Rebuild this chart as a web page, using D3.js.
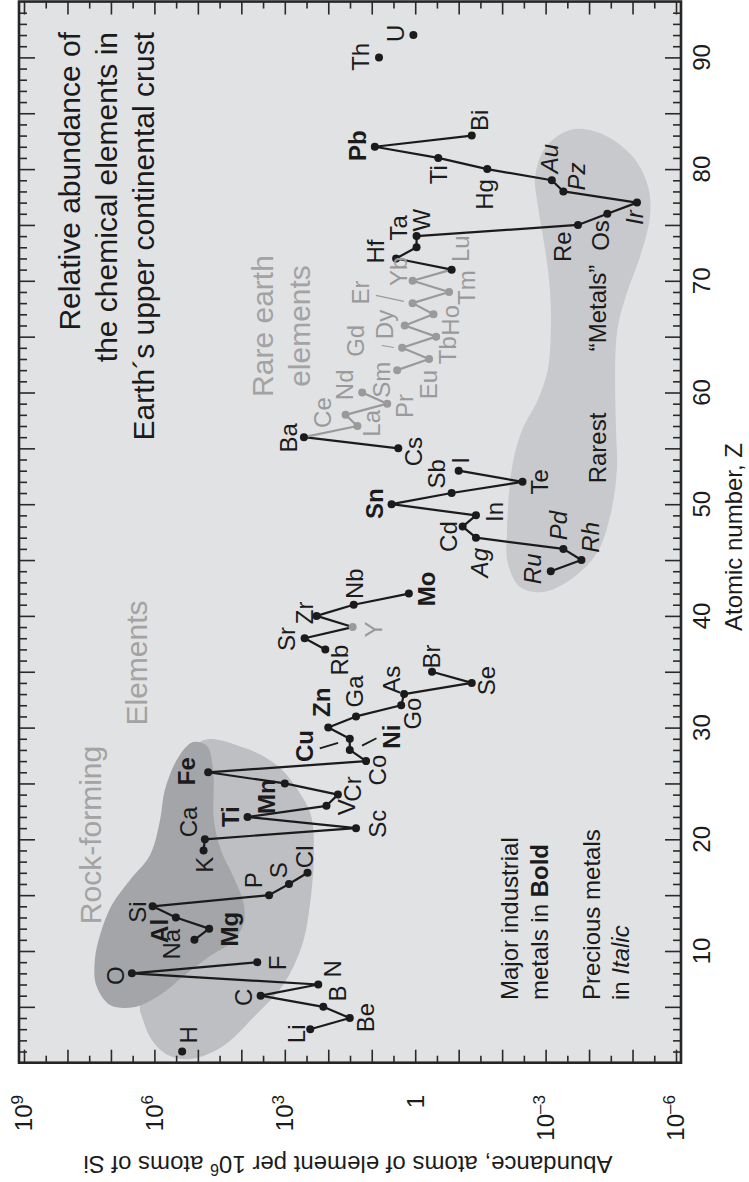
<!DOCTYPE html>
<html>
<head>
<meta charset="utf-8">
<script src="https://cdn.jsdelivr.net/npm/d3@7"></script>
<style>
  html, body { margin: 0; padding: 0; background: #fff; }
  svg { display: block; font-family: "Liberation Sans", Arial, Helvetica, sans-serif; }
</style>
</head>
<body>
<svg id="chart" width="749" height="1182"></svg>
<script>
// --- Data ---
var symbols = ["H","Li","Be","B","C","N","O","F","Na","Mg","Al","Si","P","S","Cl",
  "K","Ca","Sc","Ti","V","Cr","Mn","Fe","Co","Ni","Cu","Zn","Ga","Ge","As","Se","Br",
  "Rb","Sr","Y","Zr","Nb","Mo","Ru","Rh","Pd","Ag","Cd","In","Sn","Sb","Te","I",
  "Cs","Ba","La","Ce","Pr","Nd","Sm","Eu","Gd","Tb","Dy","Ho","Er","Tm","Yb","Lu",
  "Hf","Ta","W","Re","Os","Ir","Pt","Au","Hg","Tl","Pb","Bi","Th","U"];

var atomicNumbers = [1,3,4,5,6,7,8,9,11,12,13,14,15,16,17,
  19,20,21,22,23,24,25,26,27,28,29,30,31,32,33,34,35,
  37,38,39,40,41,42,44,45,46,47,48,49,50,51,52,53,
  55,56,57,58,59,60,62,63,64,65,66,67,68,69,70,71,
  72,73,74,75,76,77,78,79,80,81,82,83,90,92];

// atoms of element per 10^6 atoms of Si
var abundances = [2.3e5,260,32,130,3600,170,3.3e6,4300,1.2e5,5.5e4,3.2e5,1.1e6,2300,800,300,
  7.4e4,6.9e4,23,7200,110,60,1000,5.8e4,13.5,32,32,100,23,2.1,1.8,0.05,0.41,
  117,350,27.5,186,26,1.4,7.6e-4,1.5e-4,3.9e-4,0.04,0.081,0.04,3.5,0.145,3.4e-3,0.10,
  2.45,363,21.4,40,4.4,16.6,2.6,0.48,2.0,0.33,1.74,0.38,1.15,0.166,1.15,0.145,
  2.75,0.93,0.93,1.8e-4,3.8e-5,7.9e-6,3.9e-4,7.2e-4,0.022,0.295,8.5,0.05,6.8,1.1];

// label text as printed on the reference
var printedNames = { Ge: "Go", Pt: "Pz", Tl: "Ti" };

var industrialMetals = ["Mg","Al","Ti","Mn","Fe","Ni","Cu","Zn","Mo","Sn","Pb"];
var preciousMetals = ["Ru","Rh","Pd","Ag","Pt","Au","Ir"];
var rareEarthLabels = ["Y","La","Ce","Pr","Nd","Sm","Eu","Gd","Tb","Dy","Ho","Er","Tm","Yb","Lu"];
var rareEarthPoints = ["Y","La","Ce","Pr","Nd","Sm","Eu","Gd","Tb","Dy","Ho","Er","Tm","Yb"];
var lanthanideLinks = ["La","Ce","Pr","Nd","Sm","Eu","Gd","Tb","Dy","Ho","Er","Tm","Yb"];

var zTickLabels = [10,20,30,40,50,60,70,80,90];
var abundanceTickLabels = [1e9,1e6,1e3,1,1e-3,1e-6];

// shaded groups: [Z, log10 abundance]
var elementsOutline = [[28.71,4.95],[28.17,3.92],[26.56,3.16],[24.41,2.70],[22.18,2.40],[19.04,2.33],
  [14.83,2.40],[10.54,2.60],[6.96,3.04],[4.18,3.69],[1.41,4.45],[0.33,5.18],[0.69,5.69],
  [2.03,6.06],[3.82,6.26],[5.17,6.33],[9.19,5.64],[19.04,5.41]];
var rockFormingOutline = [[28.71,5.11],[28.35,4.79],[26.20,4.65],[21.73,4.63],[19.04,4.47],[16.54,4.17],
  [14.12,3.94],[12.33,3.96],[10.81,4.22],[9.55,4.72],[7.85,5.30],[6.06,5.87],[4.99,6.45],
  [5.17,7.02],[6.96,7.34],[9.19,7.37],[11.43,7.25],[14.12,6.98],[16.36,6.56],[18.59,6.10],
  [21.73,5.87],[24.41,5.76],[27.28,5.46]];
var rarestOutline = [[83.50,-3.56],[83.23,-4.25],[81.08,-5.01],[78.40,-5.36],[75.71,-5.40],[72.13,-5.17],
  [68.91,-4.87],[65.86,-4.66],[62.28,-4.60],[56.64,-4.62],[53.06,-4.64],[48.85,-4.48],
  [45.63,-4.18],[43.21,-3.56],[42.14,-2.94],[42.59,-2.41],[44.74,-2.13],[47.42,-2.11],
  [53.33,-2.23],[56.64,-2.46],[59.33,-2.82],[62.01,-3.05],[65.59,-3.12],[69.18,-3.10],
  [72.76,-2.99],[76.79,-2.82],[79.29,-2.76],[81.89,-2.99]];

// --- Label placement (pixel offset of label centre from its point) ---
var labelOffsets = {
  H:[6.6,-16.7], Li:[-13.3,4.6], Be:[15.7,-0.4], B:[14,-13.3], C:[-17.4,1.7], N:[14,-15.7],
  O:[-16.7,2.4], F:[20,0.7], Na:[-23.3,4.3], Mg:[20.7,0.6], Al:[-16,13.4], Si:[-15,5.7],
  P:[-15,-15], S:[-10,-13.7], Cl:[-3.3,-16], K:[1.5,14.3], Ca:[-16,-17.3], Sc:[21.6,-4.4],
  Ti:[-16.6,-0.3], V:[19.7,1.4], Cr:[14.6,-5.6], Mn:[-18.3,13.3], Fe:[-21.6,-1], Co:[11.3,9],
  Ni:[41.7,-13.3], Cu:[-45,7.3], Zn:[-6.6,-25.3], Ga:[-1,-25], Ge:[11.6,8.3], As:[-12.6,-14.3],
  Se:[15,-2.3], Br:[0,-15.3], Rb:[14.7,10.7], Sr:[-18.3,0.7], Y:[20.6,2.4], Zr:[-11.7,-3],
  Nb:[1,-21], Mo:[17.7,-4.7], Ru:[-17.7,-2.4], Rh:[9,-22.7], Pd:[-5,-23.3], Ag:[4,25],
  Cd:[-14.4,10], In:[19,-3.4], Sn:[-16.7,-0.6], Sb:[-15,-19.3], Te:[17.3,0], I:[1.7,-10.3],
  Cs:[15,3.3], Ba:[-15.7,0.7], La:[14.4,-2.7], Ce:[-23.4,-2.3], Pr:[17.7,2.3], Nd:[-17.3,-7.7],
  Sm:[-15.6,9.7], Eu:[-0.3,25.7], Gd:[-46.6,-7], Tb:[11.3,13.6], Dy:[-20,-1], Ho:[16.7,6],
  Er:[-51.7,-10.7], Tm:[17.4,-4.4], Yb:[-13.7,-9.4], Lu:[9,-21], Hf:[-21,-7], Ta:[-18.4,-19.4],
  W:[5,-16], Re:[-15.4,21.7], Os:[-6.6,21.7], Ir:[-2.7,15], Pt:[13.4,-15], Au:[-2.7,-21.7],
  Hg:[-2.3,25.4], Tl:[0,16.7], Pb:[-17.4,-1], Bi:[8.3,-15.3], Th:[-18.6,-0.6], U:[-17.6,-1.7]
};
// leader lines: [symbol, from dx, from dy, to dx, to dy, colour]
var leaders = [
  ["Ni", 26.7, -11.7, 12.3, -4.3, "#1b1b1b"],
  ["Cu", -30, 9.6, -11.7, 4, "#1b1b1b"],
  ["Gd", -20.3, -2.3, -8.3, -0.3, "#9a9a9a"],
  ["Er", -36.7, -7.7, -8.7, -1.7, "#9a9a9a"]
];

(function () {
  'use strict';

  var ink = '#1b1b1b';
  var grey = '#9a9a9a';
  var frameL = 19, frameR = 681;

  var x = d3.scaleLog().domain([1e9, 1e-6]).range([24, 676]);
  var y = d3.scaleLinear().domain([0, 95]).range([1062.7, 1.55]);
  var frameT = y(95), frameB = y(0);

  var svg = d3.select('#chart');

  // rotated text helper (reads bottom-to-top)
  function vText(parent, px, py, opts) {
    var t = parent.append('text')
      .attr('transform', 'translate(' + px + ',' + py + ') rotate(' + (opts.rotate != null ? opts.rotate : -90) + ')')
      .attr('text-anchor', opts.anchor || 'middle')
      .attr('font-size', opts.size || 24)
      .attr('fill', opts.color || ink);
    if (opts.center) t.attr('dy', '0.35em');
    if (opts.weight) t.attr('font-weight', opts.weight);
    if (opts.italic) t.attr('font-style', 'italic');
    return t;
  }

  // --- Plot background ---
  svg.append('rect')
    .attr('x', frameL).attr('y', frameT)
    .attr('width', frameR - frameL).attr('height', frameB - frameT)
    .attr('fill', '#e1e2e4');

  // --- Shaded groups ---
  var outline = d3.line()
    .x(function (d) { return x(Math.pow(10, d[1])); })
    .y(function (d) { return y(d[0]); })
    .curve(d3.curveCatmullRomClosed.alpha(0.5));

  svg.append('path').attr('d', outline(elementsOutline)).attr('fill', '#bebfc2');
  svg.append('path').attr('d', outline(rockFormingOutline)).attr('fill', '#a4a5a8');
  svg.append('path').attr('d', outline(rarestOutline)).attr('fill', '#c8c9cc');

  // --- Axes ticks (inward on all four sides) ---
  var zMinor = d3.range(1, 95).filter(function (z) { return z % 5 !== 0; });
  var zMajor = d3.range(5, 95, 5);
  var aMajor = d3.range(-6, 10).map(function (e) { return Math.pow(10, e); });
  var aMinor = d3.range(-6, 9).map(function (e) { return Math.pow(10, e + 0.5); });

  function tickAxis(axis, tx, ty, vals, size) {
    var a = svg.append('g')
      .attr('transform', 'translate(' + tx + ',' + ty + ')')
      .call(axis.tickValues(vals).tickSize(size).tickFormat(''));
    a.select('.domain').remove();
    a.selectAll('line').attr('stroke', '#2a2a2a').attr('stroke-width', 1.6);
  }
  tickAxis(d3.axisLeft(y), frameR, 0, zMinor, 8);
  tickAxis(d3.axisLeft(y), frameR, 0, zMajor, 16);
  tickAxis(d3.axisRight(y), frameL, 0, zMinor, 8);
  tickAxis(d3.axisRight(y), frameL, 0, zMajor, 16);
  tickAxis(d3.axisBottom(x), 0, frameT, aMinor, 7);
  tickAxis(d3.axisBottom(x), 0, frameT, aMajor, 13);
  tickAxis(d3.axisTop(x), 0, frameB, aMinor, 7);
  tickAxis(d3.axisTop(x), 0, frameB, aMajor, 13);

  svg.append('rect')
    .attr('x', frameL).attr('y', frameT)
    .attr('width', frameR - frameL).attr('height', frameB - frameT)
    .attr('fill', 'none').attr('stroke', '#262626').attr('stroke-width', 2.6);

  // --- Tick labels ---
  zTickLabels.forEach(function (z) {
    vText(svg, 701.5, y(z), { center: true, size: 24 }).text(z);
  });
  abundanceTickLabels.forEach(function (v) {
    var e = Math.round(Math.log10(v));
    var t = vText(svg, x(v), 1095, { anchor: 'end', center: true, size: 24 });
    if (e === 0) { t.text('1'); return; }
    t.append('tspan').text('10');
    t.append('tspan').attr('font-size', 17).attr('dy', '-0.55em')
      .text(e < 0 ? '\u2013' + (-e) : String(e));
  });

  // axis titles
  vText(svg, 734, 537, { center: true, size: 24 }).text('Atomic number, Z');
  var yt = svg.append('text')
    .attr('transform', 'translate(348,1156) rotate(180)')
    .attr('text-anchor', 'middle').attr('font-size', 24).attr('fill', ink);
  yt.append('tspan').text('Abundance, atoms of element per 10');
  yt.append('tspan').attr('font-size', 16).attr('dy', '-0.5em').text('6');
  yt.append('tspan').attr('dy', '0.33em').text(' atoms of Si');

  // --- Titles & group names ---
  ['Relative abundance of', 'the chemical elements in', 'Earth\u00b4s upper continental crust']
    .forEach(function (line, i) {
      vText(svg, 80 + i * 37, 32, { anchor: 'end', size: 30 }).text(line);
    });
  vText(svg, 101, 835, { size: 30, color: '#a3a3a3' }).text('Rock-forming');
  vText(svg, 147, 663, { size: 30, color: '#a3a3a3' }).text('Elements');
  vText(svg, 273, 326, { size: 30, color: '#a3a3a3' }).text('Rare earth');
  vText(svg, 310, 326, { size: 30, color: '#a3a3a3' }).text('elements');

  vText(svg, 518, 1000, { anchor: 'start', size: 24 }).text('Major industrial');
  var mb = vText(svg, 548, 1000, { anchor: 'start', size: 24 });
  mb.append('tspan').text('metals in ');
  mb.append('tspan').attr('font-weight', 'bold').text('Bold');
  vText(svg, 600, 1000, { anchor: 'start', size: 24 }).text('Precious metals');
  var pi = vText(svg, 629, 1000, { anchor: 'start', size: 24 });
  pi.append('tspan').text('in ');
  pi.append('tspan').attr('font-style', 'italic').text('Italic');
  vText(svg, 606, 448, { size: 24 }).text('Rarest');
  vText(svg, 606, 308, { size: 24 }).text('\u201cMetals\u201d');

  // --- Points & connecting lines ---
  var points = symbols.map(function (s, i) {
    return { sym: s, z: atomicNumbers[i], v: abundances[i],
             px: x(abundances[i]), py: y(atomicNumbers[i]) };
  });
  var bySym = {};
  points.forEach(function (p) { bySym[p.sym] = p; });

  var links = [];
  for (var i = 0; i < points.length - 1; i++) {
    if (points[i + 1].z - points[i].z === 1) links.push([points[i], points[i + 1]]);
  }
  svg.append('g').selectAll('line')
    .data(links)
    .join('line')
    .attr('x1', function (d) { return d[0].px; })
    .attr('y1', function (d) { return d[0].py; })
    .attr('x2', function (d) { return d[1].px; })
    .attr('y2', function (d) { return d[1].py; })
    .attr('stroke', function (d) {
      return (lanthanideLinks.indexOf(d[0].sym) >= 0 || lanthanideLinks.indexOf(d[1].sym) >= 0) ? grey : ink;
    })
    .attr('stroke-width', 2.2);

  leaders.forEach(function (l) {
    var p = bySym[l[0]];
    svg.append('line')
      .attr('x1', p.px + l[1]).attr('y1', p.py + l[2])
      .attr('x2', p.px + l[3]).attr('y2', p.py + l[4])
      .attr('stroke', l[5]).attr('stroke-width', l[5] === ink ? 1.8 : 1.2);
  });

  svg.append('g').selectAll('circle')
    .data(points)
    .join('circle')
    .attr('cx', function (d) { return d.px; })
    .attr('cy', function (d) { return d.py; })
    .attr('r', 4)
    .attr('fill', function (d) { return rareEarthPoints.indexOf(d.sym) >= 0 ? grey : ink; });

  // element labels
  points.forEach(function (p) {
    var off = labelOffsets[p.sym] || [0, -15];
    var isRare = rareEarthLabels.indexOf(p.sym) >= 0;
    vText(svg, p.px + off[0], p.py + off[1], {
      center: true, size: 24,
      color: isRare ? grey : ink,
      weight: industrialMetals.indexOf(p.sym) >= 0 ? 'bold' : null,
      italic: preciousMetals.indexOf(p.sym) >= 0
    }).text(printedNames[p.sym] || p.sym);
  });
})();
</script>
</body>
</html>
